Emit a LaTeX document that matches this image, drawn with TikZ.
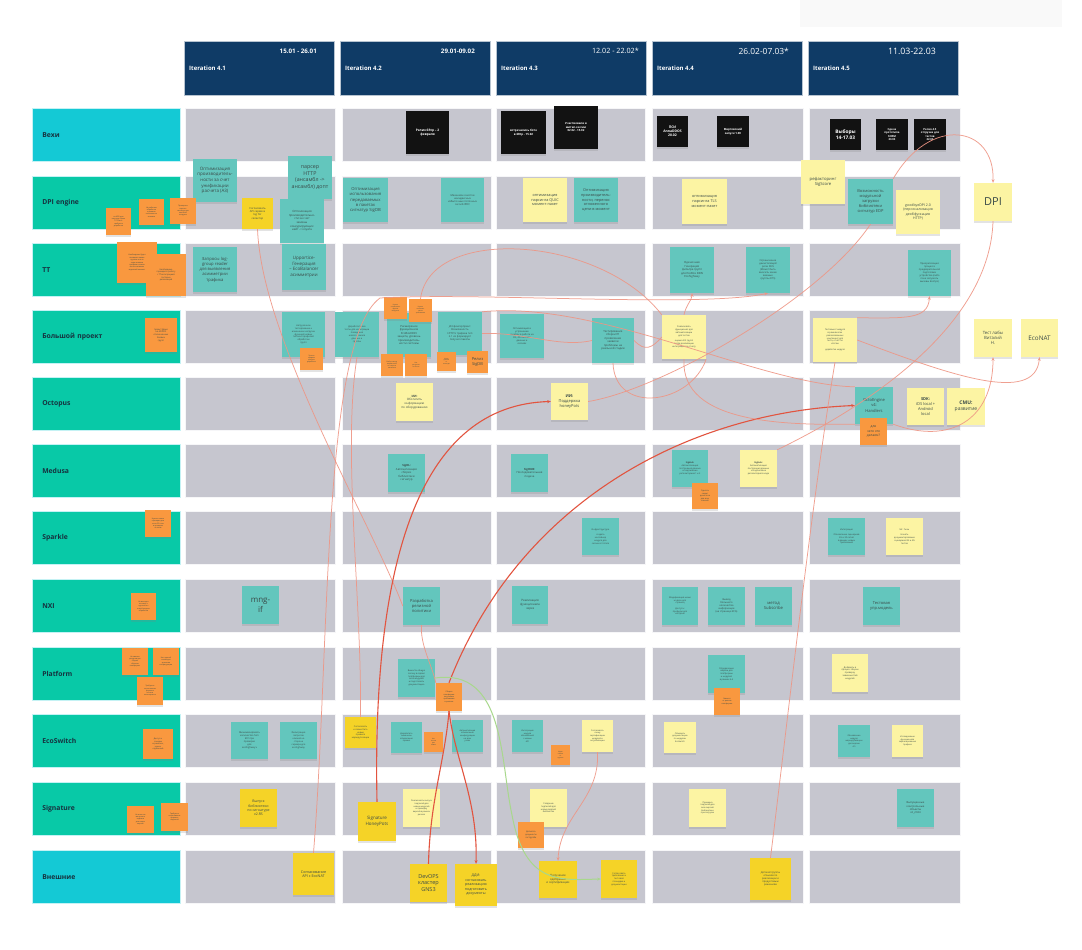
\documentclass[tikz,border=0pt]{standalone}
\usepackage{fontspec}
\setmainfont{Open Sans}
\usetikzlibrary{arrows.meta,shadows}
\definecolor{navy}{HTML}{0F3B66}
\definecolor{cyanl}{HTML}{14C9D5}
\definecolor{greenl}{HTML}{08C9A7}
\definecolor{cellc}{HTML}{C6C6CF}
\definecolor{tealn}{HTML}{63C6BD}
\definecolor{ylwl}{HTML}{FCF4A3}
\definecolor{ylwb}{HTML}{F5D327}
\definecolor{orng}{HTML}{F9983F}
\definecolor{blk}{HTML}{121212}
\definecolor{linec}{HTML}{EE9584}
\definecolor{liner}{HTML}{E2543F}
\definecolor{lineg}{HTML}{A8D88C}
\definecolor{lbltext}{HTML}{16323F}
\definecolor{notetext}{HTML}{3A4A48}
\newcommand{\stk}[9][]{%
 \pgfmathsetmacro\skx{(#4+#6)/2}%
 \pgfmathsetmacro\sky{(#5+#7)/2}%
 \pgfmathsetmacro\skw{#6-#4}%
 \pgfmathsetmacro\skh{#7-#5}%
 \pgfmathsetmacro\skb{#8*1.25}%
 \node[stkbase,fill=#3,minimum width=\skw pt,minimum height=\skh pt,font=\fontsize{#8}{\skb}\selectfont,#1] (#2) at (\skx,\sky) {#9};}
\begin{document}
\begin{tikzpicture}[x=1pt,y=-1pt,
  cell/.style={fill=cellc,draw=white!85!cellc,line width=0.5},
  lbl/.style={anchor=north west,minimum width=148pt,minimum height=53pt,text width=128pt,inner xsep=10pt,inner ysep=0pt,align=left,font=\bfseries\fontsize{6.8}{8}\selectfont,text=lbltext,draw=white!75!cyanl,line width=0.6},
  hdr/.style={anchor=north west,fill=navy,minimum width=150pt,minimum height=54pt,inner sep=0pt,draw=white!70!navy,line width=0.4},
  htxt/.style={text=white,inner sep=0pt,font=\bfseries\fontsize{6}{7}\selectfont},
  stkbase/.style={inner sep=0.8pt,align=center,text=notetext,drop shadow={shadow xshift=0.3pt,shadow yshift=-1.6pt,opacity=0.22}},
  blknote/.style={text=white},
  conn/.style={draw=linec,line width=0.75,opacity=0.9},
  connr/.style={draw=liner,line width=1.1},
  conng/.style={draw=lineg,line width=1.0},
  arr/.style={-{Stealth[length=3.6pt,width=3pt]}}]
\useasboundingbox (0,0) rectangle (1082,950);
\fill[white] (0,0) rectangle (1082,950);
\fill[gray!5] (800,0) rectangle (1062,27);
% headers
\foreach \i/\a in {1/184,2/340,3/496,4/652,5/808}{
  \node[hdr] (h\i) at (\a,41) {};
  \node[htxt,anchor=west] (hi\i) at (\a+5,68) {Iteration 4.\i};
}
\node[htxt,anchor=east,font=\bfseries\fontsize{6.2}{7}\selectfont] (hd1) at (317,51) {15.01 - 26.01};
\node[htxt,anchor=east,font=\bfseries\fontsize{6.2}{7}\selectfont] (hd2) at (475,51) {29.01-09.02};
\node[htxt,anchor=east,font=\fontsize{7.2}{8}\selectfont] (hd3) at (639,51) {12.02 - 22.02*};
\node[htxt,anchor=east,font=\fontsize{8.4}{9}\selectfont] (hd4) at (789,51) {26.02-07.03*};
\node[htxt,anchor=east,font=\fontsize{8.8}{9}\selectfont] (hd5) at (936,51) {11.03-22.03};
% grid cells
\foreach \y in {108,176,243,310,377,444,511,579,647,714,782,850}{
  \foreach \a/\b in {185/335,342/491,496/645,652/803,809/960}{
    \path[cell] (\a,\y) rectangle (\b,\y+53);
  }
}
% lane labels
\foreach \i/\y/\t/\c in {1/108/Вехи/cyanl,2/176/DPI engine/greenl,3/243/TT/greenl,4/310/Большой проект/greenl,5/377/Octopus/greenl,6/444/Medusa/greenl,7/511/Sparkle/greenl,8/579/NXI/greenl,9/647/Platform/greenl,10/714/EcoSwitch/greenl,11/782/Signature/greenl,12/850/Внешние/cyanl}{
  \node[lbl,fill=\c] (lane\i) at (32,\y) {\t};
}
% ---- Вехи
\stk[blknote]{m1}{blk}{406}{111}{449}{154}{3.2}{\textbf{Релиз 6Rtp – 2}\\\textbf{февраля}}
\stk[blknote]{m2}{blk}{501}{111}{546}{154}{2.9}{\textbf{встречались боте}\\\textbf{в 6Rtp - 15.02}}
\stk[blknote]{m3}{blk}{554}{106}{598}{149}{2.8}{\textbf{Участвовали в}\\\textbf{митап-сессии}\\\textbf{02.02 - 15.02}}
\stk[blknote]{m4}{blk}{657}{116}{688}{147}{3.4}{\textbf{ПСИ}\\\textbf{AnnaDDOS}\\\textbf{28.02}}
\stk[blknote]{m5}{blk}{717}{116}{749}{147}{2.8}{\textbf{Мартовский}\\\textbf{запуск 1.00}}
\stk[blknote]{m6}{blk}{830}{119}{861}{150}{4.8}{\textbf{Выборы}\\\textbf{14-17.03}}
\stk[blknote]{m7}{blk}{876}{119}{908}{150}{2.7}{\textbf{Сдача}\\\textbf{прототипа}\\\textbf{SORM}\\\textbf{23.03}}
\stk[blknote]{m8}{blk}{914}{119}{946}{150}{2.7}{\textbf{Релиз 4.5}\\\textbf{отгрузка для}\\\textbf{тестов}\\\textbf{22.03}}
% ---- DPI engine
\stk{d1}{tealn}{193}{159}{237}{202}{4.5}{Оптимизация\\производитель-\\ности за счет\\унификации\\расчета (А3)}
\stk{d2}{tealn}{288}{156}{332}{199}{5.3}{парсер\\HTTP\\(ансамбл ->\\ансамбл) допт}
\stk{d4}{tealn}{280}{199}{324}{243}{2.9}{Оптимизация\\производительно-\\сти за счет\\замены\\конкурирующих\\нейт -> клуатн}
\stk{d3}{ylwb}{242}{198}{273}{229}{2.7}{Согласовать\\API сервиса\\log for\\селектор}
\stk{o1}{orng}{106}{208}{131}{235}{1.8}{на ADD при\\нагрузке более\\10 Гбит/с\\требуется\\доработка}
\stk{o2}{orng}{139}{199}{164}{225}{1.8}{Не работает\\обработка\\в режиме\\отложенного\\анализа}
\stk{o3}{orng}{170}{198}{196}{224}{1.8}{Проверить\\парсинг\\сигнатур при\\высокой\\нагрузке}
\stk{d5}{tealn}{343}{178}{388}{222}{4.2}{Оптимизация\\использования\\передаваемых\\в пакетах\\сигнатур SigDB}
\stk{d6}{tealn}{441}{178}{484}{222}{2.6}{Механизм очистки\\неиндексных\\избыточных поточных\\сессий IPDC}
\stk{d7}{ylwl}{523}{178}{567}{222}{3.8}{оптимизация\\парсинга QUIC\\момент-пакет}
\stk{d8}{tealn}{574}{178}{618}{222}{3.8}{Оптимизация\\производитель-\\ности, перенос\\отложенного\\цепи в момент}
\stk{d9}{ylwl}{682}{179}{727}{224}{3.8}{оптимизация\\парсинга TLS\\момент-пакет}
\stk{d10}{ylwl}{801}{160}{845}{204}{4.2}{рефакторинг\\SigScore}
\stk{d11}{tealn}{848}{179}{893}{224}{4.0}{Возможность\\модульной\\загрузки\\библиотеки\\сигнатур EDP}
\stk{d12}{ylwl}{896}{190}{940}{234}{3.5}{goodbyeDPI 2.0\\(персонализация\\деобфускация\\HTTP)}
\stk{dpi}{ylwl}{974}{183}{1012}{221}{11}{DPI}
% ---- TT
\stk{o4}{orng}{117}{242}{157}{283}{1.9}{Необходимо будет\\понимать какие\\группы есть в\\ходе анализа\\трафика и какие\\из них активны\\в данный момент}
\stk{o5}{orng}{146}{254}{186}{296}{2.1}{Необходимо\\проверить работу\\с TTинтеграцией\\тестовых\\реализаций}
\stk{t1}{tealn}{193}{247}{237}{292}{4.2}{Запросы log-\\group reader\\для выявления\\асимметрии\\трафика}
\stk{t2}{tealn}{282}{244}{326}{290}{4.5}{Upportice-\\Генерация\\– EcoBalancer\\асимметрии}
\stk{t3}{tealn}{670}{247}{714}{293}{2.8}{Одиночная\\Генерация\\фильтра групп\\для EcoBox DDN\\Ecohighway}
\stk{t4}{tealn}{746}{247}{790}{293}{2.5}{Ограничение\\деинсталяций\\роли DNS\\(Может быть\\вносить какие\\важные\\группы DTS)}
\stk{t5}{tealn}{908}{250}{951}{296}{2.4}{Приоритизация\\процесса\\предварительной\\подготовки\\устройства (либо\\пока запускать\\вызовы EcoOps)}
% ---- Большой проект
\stk{o6}{orng}{145}{318}{177}{352}{2.2}{проект Демо\\на ADDOS\\отключенных\\боевых\\групп}
\stk{b1}{tealn}{282}{312}{325}{357}{2.3}{Нагрузочное\\тестирование к\\изменении нагрузки\\функций новых\\типов и профилей\\обработки\\групп}
\stk{o7}{orng}{300}{348}{323}{370}{1.7}{Третьи\\сервисы\\требуют\\доработки}
\stk{b2}{tealn}{335}{312}{379}{357}{2.3}{Доработать все\\тесты для интеграции\\поведения\\нового канала\\данных и\\группы}
\stk{b3}{tealn}{387}{313}{431}{357}{2.8}{Расширение\\функционала\\EcoBoxDDN\\защита, уровень\\производитель-\\ности системы}
\stk{o8}{orng}{384}{297}{407}{319}{1.6}{Нужно\\согласовать\\формат\\выгрузки}
\stk{o9}{orng}{409}{299}{432}{322}{1.6}{Нужно\\понимать\\какие\\требования}
\stk{o10}{orng}{381}{354}{403}{376}{1.6}{Выбор между\\вариантами\\на стороне\\заказчика}
\stk{o11}{orng}{405}{354}{427}{376}{1.6}{Нет\\ресурсов\\на тесты}
\stk{b4}{tealn}{438}{312}{482}{355}{2.6}{JA3 фингерпринт.\\Возможность\\HTTP/s трафика тип\\2.1 из формирует\\получил пакеты}
\stk{o12}{orng}{437}{352}{456}{371}{1.5}{Ждем\\данные\\от\\команды}
\stk{o13}{orng}{467}{351}{488}{373}{4.0}{Релиз\\SigDB}
\stk{b5}{tealn}{500}{314}{544}{358}{2.4}{Оптимизация и\\устранение\\ошибок в работе на\\3G, 4G потоков\\данных и\\сессиях}
\stk{b6}{tealn}{592}{318}{634}{363}{2.8}{Тестирование\\сборки E1\\проявление\\заявили\\проблемы на\\реальной стадии}
\stk{b7}{ylwl}{662}{315}{706}{359}{2.2}{Реализовать\\функционал для\\автоматизации\\для тестов\\\\оценка 2/3 групп\\после реализации\\интеграция по отчету}
\stk{b8}{ylwl}{813}{318}{857}{362}{2.2}{Тестовые 2 модуля\\в рамках всех\\реализованных\\компонент для\\теста, отчёт по\\итогам\\\\доработка модуля}
\stk{lab}{ylwl}{974}{319}{1012}{357}{4.3}{Тест лабы\\Виталий\\Н.}
\stk{econat}{ylwl}{1021}{319}{1058}{357}{6.3}{EcoNAT}
% ---- Octopus
\stk{oc1}{ylwl}{396}{383}{433}{421}{3.0}{\textbf{ИИ:}\\Обогатить\\информацию\\по оборудованию}
\stk{oc2}{ylwl}{551}{383}{588}{420}{4.0}{\textbf{ИИ:}\\Поддержка\\honeyPots}
\stk{oc3}{tealn}{855}{387}{893}{424}{4.1}{OctoEngine\\v4:\\Handlers}
\stk{oc4}{ylwl}{907}{388}{944}{425}{4.0}{\textbf{SDK:}\\iOS local +\\Android\\local}
\stk{oc5}{ylwl}{947}{388}{985}{425}{5.0}{\textbf{CMU:}\\развитие}
\stk{oc6}{orng}{860}{418}{887}{445}{3.3}{для\\чего это\\делаем?}
% ---- Medusa
\stk{me1}{tealn}{388}{454}{425}{492}{2.8}{\textbf{SigDL:}\\Автоматизация\\сборки\\библиотеки\\сигнатур}
\stk{me2}{tealn}{511}{454}{548}{492}{2.8}{\textbf{SigHUB:}\\Последовательная\\подача}
\stk{me3}{tealn}{672}{450}{708}{487}{2.2}{\textbf{SigHub:}\\Автоматизация\\построения данных\\и подписание\\репозиториев 1 и 2}
\stk{me4}{orng}{692}{483}{718}{509}{2.0}{Сделать\\секрет\\делегатов\\для всех\\ключей}
\stk{me5}{ylwl}{740}{450}{777}{487}{2.2}{\textbf{SigHub:}\\Автоматизация\\построения данных\\и подписание\\репозитория в коде}
% ---- Sparkle
\stk{o14}{orng}{145}{510}{171}{537}{1.8}{Нужны новые\\сценарии для\\теста 3G сети\\и проверка\\отчётов}
\stk{sp1}{tealn}{582}{518}{619}{555}{2.2}{Инфраструктура\\\\создать\\контейнер\\модуля для\\сессии в 3 этапа}
\stk{sp2}{tealn}{828}{518}{865}{555}{2.2}{Интеграция\\\\Обновление сценариев\\2G и 3G сетей\\в рамках новых\\требований}
\stk{sp3}{ylwl}{886}{518}{923}{555}{2.2}{Mr. Гном\\\\Начать\\документирование\\сценариев 3G и 4G\\тестов}
% ---- NXI
\stk{o15}{orng}{131}{593}{156}{620}{1.8}{Не выходит\\на связь с\\группой по\\новой модели\\обработки}
\stk{nx1}{tealn}{242}{586}{279}{624}{8.0}{mng-\\if}
\stk{nx2}{tealn}{403}{587}{440}{625}{4.1}{Разработка\\релизной\\политики}
\stk{nx3}{tealn}{512}{586}{548}{624}{3.0}{Реализация\\функционала\\через}
\stk{nx4}{tealn}{662}{587}{698}{625}{2.2}{Модификация меню\\на всех для\\страниц\\\\Доступ к\\профилю для\\настроек}
\stk{nx5}{tealn}{708}{587}{745}{625}{2.5}{Вывод\\большего\\количества\\информации\\(на странице ЕСА)}
\stk{nx6}{tealn}{755}{587}{792}{625}{4.2}{метод\\Subscribe}
\stk{nx7}{tealn}{863}{587}{900}{625}{4.0}{Тестовая\\упр.модель}
% ---- Platform
\stk{o16}{orng}{122}{648}{148}{675}{1.8}{Не хватает\\ресурсов для\\сборки\\образов\\платформы}
\stk{o17}{orng}{153}{648}{179}{675}{1.8}{Нет единой\\схемы для\\хранения\\конфигурации}
\stk{o18}{orng}{137}{677}{163}{705}{1.8}{Требуется\\согласование\\формата\\логов и\\мониторинга}
\stk{pl1}{tealn}{398}{659}{435}{697}{2.2}{Вынести общую\\логику в сервис\\платформы для\\всех модулей\\и подготовить\\документацию}
\stk{pl2}{orng}{436}{683}{462}{711}{1.9}{Сборка\\платформы\\под новые\\требования\\и релизы}
\stk{pl3}{tealn}{708}{655}{745}{693}{2.2}{Определение\\версии для\\платформы\\и модулей\\в рамках 4.4}
\stk{pl4}{orng}{714}{688}{740}{715}{1.9}{Зависит\\от релиза\\платформы}
\stk{pl5}{ylwl}{832}{654}{868}{692}{2.2}{Добавить в\\процесс сборки\\проверку\\зависимостей\\модулей}
% ---- EcoSwitch
\stk{o19}{orng}{143}{729}{173}{759}{2.0}{Доступ к\\стендам\\ограничен,\\нужен\\отдельный}
\stk{es1}{tealn}{231}{722}{268}{759}{2.4}{Минимизировать\\количество hsm\\ECC при\\проверке\\для\\ecohighway.v}
\stk{es2}{tealn}{280}{722}{317}{759}{2.3}{Фильтрация\\запросов\\ключей на\\стороне\\сервера для\\ecohighway}
\stk{es3}{ylwb}{345}{717}{376}{748}{2.2}{Согласовать\\и совместить\\новые\\правила\\маршрутизации}
\stk{es4}{tealn}{391}{722}{422}{753}{2.1}{Доработать\\механизм\\обновления\\правил}
\stk{es5}{orng}{424}{732}{443}{752}{1.6}{Нет\\тестов\\для\\новых}
\stk{es6}{tealn}{452}{720}{483}{752}{2.1}{Автоматизация\\обновления\\конфигурации\\на всех\\узлах}
\stk{es7}{tealn}{512}{720}{543}{752}{2.1}{Интеграция\\модуля\\обновлений\\с новым\\API}
\stk{es8}{orng}{551}{745}{570}{765}{1.6}{Ждем\\ответа\\от\\группы}
\stk{es9}{ylwl}{582}{720}{613}{752}{2.1}{Согласовать\\схему\\сертификации\\модулей и\\актуализации}
\stk{es10}{ylwl}{664}{722}{696}{753}{2.1}{Обновить\\документацию\\по модулям\\EcoSwitch}
\stk{es11}{tealn}{838}{725}{870}{757}{2.1}{Обновление\\модуля\\маршрутизации\\для версии\\4.5}
\stk{es12}{ylwl}{892}{725}{923}{757}{2.1}{Исследование\\функционала\\зеркалирования\\трафика}
% ---- Signature
\stk{o20}{orng}{127}{806}{154}{833}{1.8}{Не ясно как\\выпускать\\подписи\\для новых\\версий}
\stk{o21}{orng}{161}{803}{188}{831}{1.8}{Требуется\\согласование\\формата\\подписей}
\stk{sg1}{ylwb}{240}{789}{277}{827}{3.5}{Выпуск\\библиотеки\\по сигнатуре\\v2.RS}
\stk{sg2}{ylwb}{358}{802}{396}{841}{4.5}{Signature\\HoneyPots}
\stk{sg3}{ylwl}{403}{789}{440}{827}{2.1}{Реализовать выпуск\\подписей для\\новых модулей\\и проверку\\версий в рамках\\релиза}
\stk{sg4}{ylwl}{530}{789}{567}{827}{2.2}{Создание\\подписей для\\новых версий\\библиотек}
\stk{sg5}{orng}{518}{822}{544}{848}{2.1}{Дописать\\документы\\по SignIdle}
\stk{sg6}{ylwl}{689}{789}{726}{827}{2.1}{Проверка\\подписей для\\всех версий\\библиотеки\\при загрузке}
\stk{sg7}{tealn}{897}{789}{934}{827}{2.7}{Выпущенные\\контрольные\\объекты\\v2\_2024}
% ---- Внешние
\stk{ex1}{ylwb}{293}{853}{334}{895}{3.7}{Согласование\\API с EcoNAT}
\stk{ex2}{ylwb}{410}{864}{447}{902}{5.5}{DevOPS\\кластер\\GNS3}
\stk{ex3}{ylwb}{455}{864}{497}{906}{3.6}{ДДИ:\\согласовать\\реализацию\\подготовить\\документы}
\stk{ex4}{ylwb}{539}{861}{577}{898}{2.9}{Получение\\одобрения\\и сертификации}
\stk{ex5}{ylwb}{601}{860}{637}{898}{2.2}{Согласовать\\требования к\\тестовой\\площадке и\\документации}
\stk{ex6}{ylwb}{750}{858}{791}{900}{2.5}{Детский группы\\отзывов по\\реализации и\\продуктовым\\решениям}
% ---- connectors
\draw[conn] (d3.south) .. controls (262,340) and (370,520) .. (nx2.west);
\draw[conn] (nx2.south) .. controls (420,645) and (432,665) .. (pl2.north west);
\draw[connr,arr] (pl2.north) .. controls (520,500) and (690,412) .. (oc3.west);
\draw[conn] (d11.south) .. controls (820,300) and (660,390) .. (oc2.east);
\draw[connr,arr] (sg2.north) .. controls (372,560) and (420,405) .. (oc2.west);
\draw[connr] (pl2.south) .. controls (445,760) and (430,800) .. (ex2.north);
\draw[connr,arr] (pl2.south) .. controls (455,760) and (478,800) .. (ex3.north);
\draw[conng,arr] (pl1.east) .. controls (505,668) and (500,760) .. (512,815) .. controls (525,885) and (560,880) .. (ex5.west);
\draw[conn,arr] (es9.south) .. controls (600,800) and (560,815) .. (ex4.north);
\draw[conn] (ex6.north) .. controls (790,700) and (812,500) .. (b8.south);
\draw[conn] (es3.north) .. controls (362,600) and (342,450) .. (b2.south);
\draw[conn,arr] (ex1.north) .. controls (330,650) and (322,340) .. (380,298) .. controls (480,292) and (700,308) .. (t4.south);
\draw[conn,arr] (b7.north) .. controls (686,305) and (692,300) .. (t3.south);
\draw[conn] (o9.north) .. controls (430,225) and (600,235) .. (b7.north west);
\draw[conn] (b4.east) .. controls (525,332) and (560,348) .. (b6.west);
\draw[conn] (b6.east) .. controls (645,352) and (652,348) .. (b7.west);
\draw[conn] (b7.south) .. controls (680,425) and (790,425) .. (oc3.south west);
\draw[conn] (b4.north east) .. controls (600,300) and (760,385) .. (oc3.north west);
\draw[conn,arr] (d11.north east) .. controls (930,115) and (995,125) .. (dpi.north);
\draw[conn] (dpi.south) .. controls (990,320) and (880,400) .. (me5.north east);
\draw[conn,arr] (b8.east) .. controls (950,375) and (1035,405) .. (econat.south);
\draw[conn,arr] (b8.north east) .. controls (905,318) and (928,320) .. (t5.south);
\draw[conn,arr] (oc3.south east) .. controls (950,445) and (993,420) .. (lab.south);
\draw[conn] (b6.south) .. controls (615,415) and (690,405) .. (b7.south east);
\end{tikzpicture}
\end{document}
